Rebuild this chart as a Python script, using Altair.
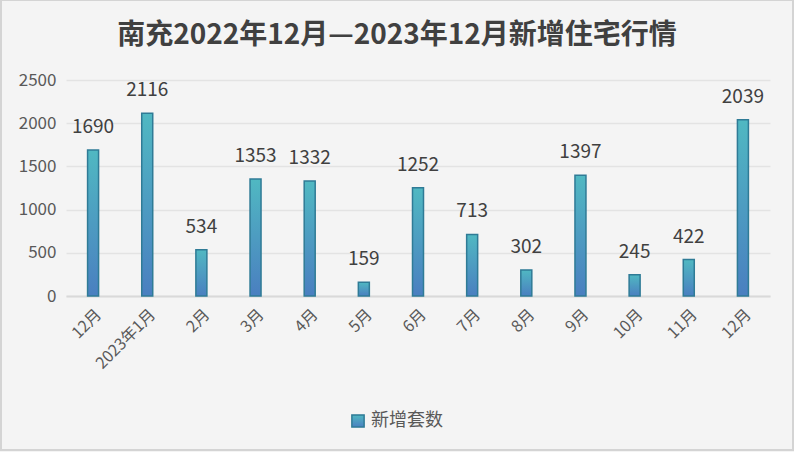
import altair as alt
import pandas as pd

months = ["12月", "2023年1月", "2月", "3月", "4月", "5月", "6月", "7月", "8月", "9月", "10月", "11月", "12月 "]
values = [1690, 2116, 534, 1353, 1332, 159, 1252, 713, 302, 1397, 245, 422, 2039]
series = ["新增套数"] * len(months)
title_text = ["南充2022年12月—2023年12月新增住宅行情"]

df = pd.DataFrame({"month": months, "value": values, "series": series})
tdf = pd.DataFrame({"t": title_text})

fill_grad = alt.LinearGradient(
    gradient="linear",
    stops=[alt.GradientStop(color="#50b8c2", offset=0), alt.GradientStop(color="#4a7fc0", offset=1)],
    x1=0, x2=0, y1=0, y2=1,
)

FONT = "Noto Sans CJK SC"

x = alt.X("month:N", sort=months, title=None,
          scale=alt.Scale(paddingInner=0, paddingOuter=0),
          axis=alt.Axis(labelAngle=-45, labelFontSize=16, labelColor="#595959", labelFont=FONT,
                        ticks=False, domainColor="#d9d9d9", domainWidth=2, labelPadding=10,
                        labelExpr="trim(datum.label)"))
y = alt.Y("value:Q", title=None,
          scale=alt.Scale(domain=[0, 2500], range=[216, 0], nice=False),
          axis=alt.Axis(values=[0, 500, 1000, 1500, 2000, 2500], format="d", labelFontSize=17,
                        labelColor="#595959", labelFont=FONT, ticks=False, domain=False,
                        gridColor="#e3e3e3", gridWidth=1.5, labelPadding=10))

bars = alt.Chart(df).mark_bar(size=11, fill=fill_grad, strokeWidth=1.5).encode(
    x=x, y=y,
    stroke=alt.Stroke("series:N", scale=alt.Scale(range=["#2f7b96"]),
                      legend=alt.Legend(title=None, orient="none", legendX=283, legendY=332,
                                        symbolType="square", symbolSize=150, symbolFillColor="#4a9cc0",
                                        symbolStrokeWidth=1.5, labelFontSize=18, labelColor="#595959",
                                        labelFont=FONT)),
)

labels = alt.Chart(df).mark_text(fontSize=19, color="#404040", font=FONT, baseline="alphabetic", dy=-17).encode(
    x=alt.X("month:N", sort=months), y="value:Q", text="value:Q"
)

title = alt.Chart(tdf).mark_text(fontSize=28, font=FONT, fontWeight="bold", color="#404040",
                                 baseline="middle", align="center").encode(
    x=alt.value(331), y=alt.value(-44), text="t:N"
)

border = alt.Chart(tdf).mark_rect(fill=None, stroke="#d4d4d4", strokeWidth=2).encode(
    x=alt.value(-65), x2=alt.value(727), y=alt.value(-80), y2=alt.value(370)
)

chart = alt.layer(border, bars, labels, title).properties(
    width=704, height=216,
    background="#f4f4f4",
    padding={"left": 66, "top": 80, "right": 24, "bottom": 156},
    autosize=alt.AutoSizeParams(type="none"),
).configure_view(stroke=None)

chart.save("out.html", embed_options={"renderer": "svg", "actions": False})
